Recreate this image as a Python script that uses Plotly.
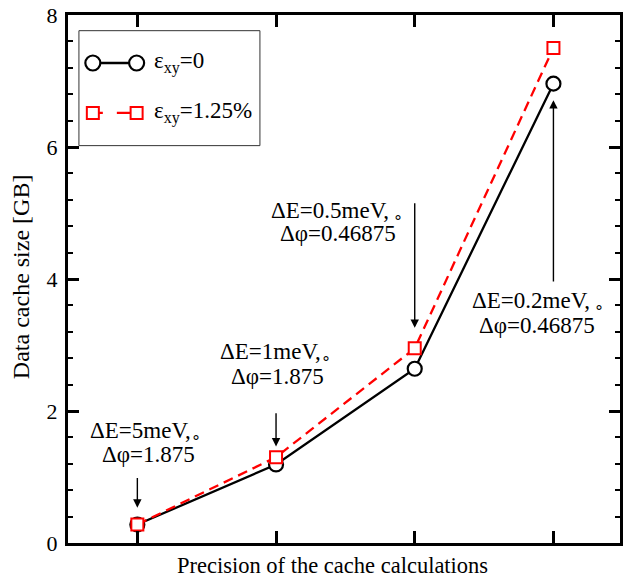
import plotly.graph_objects as go

# ---- data ----
positions = [1, 2, 3, 4]
size_strain0 = [0.28, 1.19, 2.64, 6.96]
size_strain125 = [0.28, 1.30, 2.95, 7.50]
series_names = ["ε<sub>xy</sub>=0", "ε<sub>xy</sub>=1.25%"]
y_ticks = [0, 2, 4, 6, 8]

label_line1 = ["ΔE=5meV,<sub>∘</sub>", "ΔE=1meV,<sub>∘</sub>", "ΔE=0.5meV,<sub> ∘</sub>", "ΔE=0.2meV,<sub> ∘</sub>"]
label_line2 = ["Δφ=1.875", "Δφ=1.875", "Δφ=0.46875", "Δφ=0.46875"]
label1_xy = [(1.057, 1.685), (1.995, 2.88), (2.44, 5.02), (3.89, 3.645)]
label2_xy = [(1.082, 1.345), (2.01, 2.525), (2.445, 4.69), (3.88, 3.29)]
arrow_tail = [1.008, 1.99, 5.17, 3.94]
arrow_tip = [0.535, 1.463, 3.26, 6.71]

FONT = "Liberation Serif, Times New Roman, serif"
BLACK = "black"
RED = "#ff0000"

fig = go.Figure()
fig.add_trace(go.Scatter(
    x=positions, y=size_strain0, mode="lines+markers", name=series_names[0],
    line=dict(color=BLACK, width=2.3),
    marker=dict(symbol="circle", size=14, color="white", line=dict(color=BLACK, width=2.2)),
    showlegend=False,
))
fig.add_trace(go.Scatter(
    x=positions, y=size_strain125, mode="lines+markers", name=series_names[1],
    line=dict(color=RED, width=2.3, dash="10px,6px"),
    marker=dict(symbol="square", size=12, color="white", line=dict(color=RED, width=2)),
    showlegend=False,
))

annotations = []
for i, p in enumerate(positions):
    annotations.append(dict(
        x=p, y=arrow_tip[i], ax=p, ay=arrow_tail[i], xref="x", yref="y", axref="x", ayref="y",
        text="", showarrow=True, arrowhead=2, arrowsize=1.2, arrowwidth=1.4, arrowcolor=BLACK,
        standoff=0, startstandoff=0,
    ))
    annotations.append(dict(
        x=label1_xy[i][0], y=label1_xy[i][1], xref="x", yref="y", text=label_line1[i],
        showarrow=False, xanchor="center", yanchor="middle",
        font=dict(family=FONT, size=23, color=BLACK),
    ))
    annotations.append(dict(
        x=label2_xy[i][0], y=label2_xy[i][1], xref="x", yref="y", text=label_line2[i],
        showarrow=False, xanchor="center", yanchor="middle",
        font=dict(family=FONT, size=23, color=BLACK),
    ))

annotations.append(dict(
    x=0.479, y=-0.043, xref="paper", yref="paper", text="Precision of the cache calculations",
    showarrow=False, xanchor="center", yanchor="middle",
    font=dict(family=FONT, size=22.5, color=BLACK),
))
annotations.append(dict(
    x=-0.0847, y=0.504, xref="paper", yref="paper", text="Data cache size [GB]",
    showarrow=False, xanchor="center", yanchor="middle", textangle=-90,
    font=dict(family=FONT, size=24, color=BLACK),
))

# ---- hand-drawn legend (box, sample lines with end markers, labels) ----
leg_box = dict(x0=0.0198, x1=0.3477, y0=0.7526, y1=0.9703)
leg_rows_y = [0.9091, 0.8145]
leg_x_left, leg_x_right, leg_text_x = 0.045, 0.1243, 0.1514

shapes = [dict(type="rect", xref="paper", yref="paper", **leg_box,
               line=dict(color="#333333", width=1), fillcolor="white", layer="above")]
# row 1: solid black with circles
shapes.append(dict(type="line", xref="paper", yref="paper", x0=leg_x_left, x1=leg_x_right,
                   y0=leg_rows_y[0], y1=leg_rows_y[0], line=dict(color=BLACK, width=2.3), layer="above"))
for xc in (leg_x_left, leg_x_right):
    shapes.append(dict(type="circle", xref="paper", yref="paper", xsizemode="pixel", ysizemode="pixel",
                       xanchor=xc, yanchor=leg_rows_y[0], x0=-7.5, x1=7.5, y0=-7.5, y1=7.5,
                       line=dict(color=BLACK, width=2.2), fillcolor="white", layer="above"))
# row 2: dashed red with squares
shapes.append(dict(type="line", xref="paper", yref="paper", x0=leg_x_left, x1=leg_x_right,
                   y0=leg_rows_y[1], y1=leg_rows_y[1], line=dict(color=RED, width=2.3, dash="10px,14px,15px,10px"),
                   layer="above"))
for xc in (leg_x_left, leg_x_right):
    shapes.append(dict(type="rect", xref="paper", yref="paper", xsizemode="pixel", ysizemode="pixel",
                       xanchor=xc, yanchor=leg_rows_y[1], x0=-6, x1=6, y0=-6, y1=6,
                       line=dict(color=RED, width=2), fillcolor="white", layer="above"))
for name, yy in zip(series_names, leg_rows_y):
    annotations.append(dict(
        x=leg_text_x, y=yy, xref="paper", yref="paper", text=name, showarrow=False,
        xanchor="left", yanchor="middle", font=dict(family=FONT, size=23, color=BLACK),
    ))

fig.update_layout(
    width=623, height=581,
    margin=dict(l=68, r=0, t=15, b=38),
    paper_bgcolor="white", plot_bgcolor="white",
    font=dict(family=FONT, size=22, color=BLACK),
    showlegend=False,
    annotations=annotations,
    shapes=shapes,
)
fig.update_xaxes(
    range=[0.5, 4.48], showgrid=False, zeroline=False,
    showline=True, linecolor=BLACK, linewidth=3, mirror="allticks",
    ticks="inside", ticklen=12, tickwidth=2.5, tickcolor=BLACK,
    tickvals=positions, showticklabels=False,
)
fig.update_yaxes(
    range=[0, 8], showgrid=False, zeroline=False,
    showline=True, linecolor=BLACK, linewidth=3, mirror="allticks",
    ticks="inside", ticklen=11, tickwidth=2.5, tickcolor=BLACK,
    tickvals=y_ticks, ticktext=[str(v) for v in y_ticks],
    tickfont=dict(family=FONT, size=22, color=BLACK),
    minor=dict(ticks="inside", ticklen=5, tickwidth=2, tickcolor=BLACK, dtick=0.4, showgrid=False),
    ticklabelstandoff=3,
)

fig.write_html("out.html")
